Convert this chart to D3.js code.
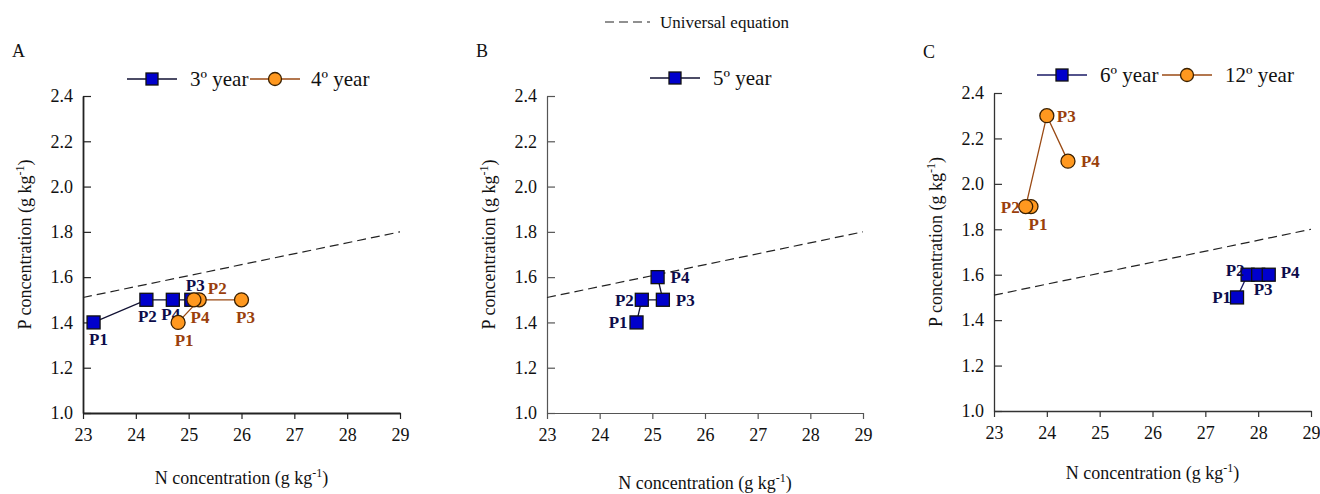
<!DOCTYPE html>
<html>
<head>
<meta charset="utf-8">
<script src="https://cdn.jsdelivr.net/npm/d3@7"></script>
<style>
  html, body { margin: 0; padding: 0; background: #fff; }
  svg { display: block; }
  svg text { font-family: "Liberation Serif", "Times New Roman", serif; }
</style>
</head>
<body>
<svg id="chart" width="1320" height="494"></svg>
<script>
// ---- data ----
const pointLabels = ["P1", "P2", "P3", "P4"];

// Panel A
const year3N = [23.2, 24.2, 25.05, 24.7];
const year3P = [1.4, 1.5, 1.5, 1.5];
const year4N = [24.8, 25.2, 26.0, 25.1];
const year4P = [1.4, 1.5, 1.5, 1.5];
// Panel B
const year5N = [24.7, 24.8, 25.2, 25.1];
const year5P = [1.4, 1.5, 1.5, 1.6];
// Panel C
const year6N = [27.6, 27.8, 28.0, 28.2];
const year6P = [1.5, 1.6, 1.6, 1.6];
const year12N = [23.7, 23.6, 24.0, 24.4];
const year12P = [1.9, 1.9, 2.3, 2.1];

// Universal equation (straight line over the N range)
const universalN = [23, 29];
const universalP = [1.51, 1.80];

const xTicks = [23, 24, 25, 26, 27, 28, 29];
const yTicks = [1.0, 1.2, 1.4, 1.6, 1.8, 2.0, 2.2, 2.4];

// ---- styles ----
const blueStyle = { fill: "#0000cc", stroke: "#111", line: "#111133", label: "#0c0c4a", shape: "square" };
const orangeStyle = { fill: "#ff981f", stroke: "#3a2000", line: "#9a4a14", label: "#9a3f0c", shape: "circle" };

// label placement per point (dx, dy, anchor) relative to the marker
const placeA3 = [[5, 23, "middle"], [1, 22, "middle"], [4, -9, "middle"], [-2, 20, "middle"]];
const placeA4 = [[6, 24, "middle"], [18, -6, "middle"], [4, 23, "middle"], [6, 23, "middle"]];
const placeB5 = [[-9, 6, "end"], [-8, 6, "end"], [13, 6, "start"], [13, 6, "start"]];
const placeC6 = [[-6, 6, "end"], [-3, 1, "end"], [5, 20, "middle"], [12, 3, "start"]];
const placeC12 = [[7, 23, "middle"], [-6, 6, "end"], [10, 6, "start"], [13, 6, "start"]];

const panels = [
  { letter: "A", x0: 83, x1: 400, yTop: 96, yBot: 413, axisColor: "#222", axisW: 1.8,
    legendY: 79, xTitleY: 484,
    series: [
      { name: "3º year", N: year3N, P: year3P, style: blueStyle, place: placeA3, lx: 127, tx: 190 },
      { name: "4º year", N: year4N, P: year4P, style: orangeStyle, place: placeA4, lx: 250, tx: 311 }
    ] },
  { letter: "B", x0: 547, x1: 863, yTop: 96, yBot: 413, axisColor: "#555", axisW: 1.2,
    legendY: 78, xTitleY: 489,
    series: [
      { name: "5º year", N: year5N, P: year5P, style: blueStyle, place: placeB5, lx: 650, tx: 713 }
    ] },
  { letter: "C", x0: 994, x1: 1311, yTop: 93, yBot: 411, axisColor: "#333", axisW: 1.3,
    legendY: 75, xTitleY: 479,
    series: [
      { name: "6º year", N: year6N, P: year6P, style: { ...blueStyle, line: "#1a1a66" }, place: placeC6, lx: 1037, tx: 1100 },
      { name: "12º year", N: year12N, P: year12P, style: orangeStyle, place: placeC12, lx: 1162, tx: 1225 }
    ] }
];

const svg = d3.select("#chart");

// Top legend: universal equation
svg.append("line")
  .attr("x1", 605).attr("x2", 650).attr("y1", 22).attr("y2", 22)
  .attr("stroke", "#222").attr("stroke-width", 1.2).attr("stroke-dasharray", "9,5");
svg.append("text").attr("x", 660).attr("y", 28)
  .attr("font-size", 17).attr("fill", "#111").text("Universal equation");

function drawMarker(g, x, y, style, size) {
  if (style.shape === "square") {
    g.append("rect")
      .attr("x", x - size / 2).attr("y", y - size / 2)
      .attr("width", size).attr("height", size)
      .attr("fill", style.fill).attr("stroke", style.stroke).attr("stroke-width", 1.3);
  } else {
    g.append("circle").attr("cx", x).attr("cy", y).attr("r", size / 2 + 0.5)
      .attr("fill", style.fill).attr("stroke", style.stroke).attr("stroke-width", 1.3);
  }
}

panels.forEach(p => {
  const x = d3.scaleLinear().domain([23, 29]).range([p.x0, p.x1]);
  const y = d3.scaleLinear().domain([1.0, 2.4]).range([p.yBot, p.yTop]);
  const g = svg.append("g");

  // panel letter
  g.append("text").attr("x", p.x0 - 71).attr("y", p.yTop - 39 + (p.letter === "C" ? 4 : 0))
    .attr("font-size", 18).attr("fill", "#111").text(p.letter);

  // x axis
  const xa = g.append("g").attr("transform", `translate(0,${p.yBot})`)
    .call(d3.axisBottom(x).tickValues(xTicks).tickFormat(d3.format("d")).tickSize(6).tickSizeOuter(0));
  xa.attr("font-family", null);
  xa.select(".domain").attr("stroke", p.axisColor).attr("stroke-width", p.axisW);
  xa.selectAll(".tick line").attr("stroke", p.axisColor).attr("stroke-width", 1.2);
  xa.selectAll(".tick text").attr("font-size", 18)
    .attr("fill", "#111").attr("dy", "1.05em");

  // y axis with inward ticks
  const ya = g.append("g").attr("transform", `translate(${p.x0},0)`)
    .call(d3.axisLeft(y).tickValues(yTicks).tickFormat(d3.format(".1f")).tickSize(-8).tickSizeOuter(0));
  ya.attr("font-family", null);
  ya.select(".domain").attr("stroke", p.axisColor).attr("stroke-width", p.axisW);
  ya.selectAll(".tick line").attr("stroke", p.axisColor).attr("stroke-width", 1.2);
  ya.selectAll(".tick text").attr("font-size", 18)
    .attr("fill", "#111").attr("x", -10);

  // axis titles
  const xt = g.append("text").attr("x", (p.x0 + p.x1) / 2).attr("y", p.xTitleY)
    .attr("text-anchor", "middle").attr("font-size", 18).attr("fill", "#111");
  xt.append("tspan").text("N concentration (g kg");
  xt.append("tspan").attr("font-size", 12).attr("dy", -7).text("-1");
  xt.append("tspan").attr("dy", 7).text(")");

  const ytx = p.x0 - 52, yty = (p.yTop + p.yBot) / 2 - 10;
  const yt = g.append("text").attr("transform", `translate(${ytx},${yty}) rotate(-90)`)
    .attr("text-anchor", "middle").attr("font-size", 18).attr("fill", "#111");
  yt.append("tspan").text("P concentration (g kg");
  yt.append("tspan").attr("font-size", 12).attr("dy", -7).text("-1");
  yt.append("tspan").attr("dy", 7).text(")");

  // universal equation line
  g.append("path")
    .datum(universalN.map((n, i) => [n, universalP[i]]))
    .attr("d", d3.line().x(d => x(d[0])).y(d => y(d[1])))
    .attr("fill", "none").attr("stroke", "#222").attr("stroke-width", 1.2)
    .attr("stroke-dasharray", "9,5");

  // series
  p.series.forEach(s => {
    const pts = s.N.map((n, i) => ({ n, p: s.P[i], label: pointLabels[i], place: s.place[i] }));
    g.append("path").datum(pts)
      .attr("d", d3.line().x(d => x(d.n)).y(d => y(d.p)))
      .attr("fill", "none").attr("stroke", s.style.line).attr("stroke-width", 1.3);
    pts.forEach(d => drawMarker(g, x(d.n), y(d.p), s.style, 13));
    pts.forEach(d => {
      g.append("text")
        .attr("x", x(d.n) + d.place[0]).attr("y", y(d.p) + d.place[1])
        .attr("text-anchor", d.place[2])
        .attr("font-size", 17).attr("font-weight", "bold").attr("fill", s.style.label)
        .text(d.label);
    });

    // legend entry
    g.append("line").attr("x1", s.lx).attr("x2", s.lx + 50)
      .attr("y1", p.legendY).attr("y2", p.legendY)
      .attr("stroke", s.style.line).attr("stroke-width", 1.3);
    drawMarker(g, s.lx + 25, p.legendY, s.style, 12);
    g.append("text").attr("x", s.tx).attr("y", p.legendY + 7)
      .attr("font-size", 21).attr("fill", "#111").text(s.name);
  });
});
</script>
</body>
</html>
